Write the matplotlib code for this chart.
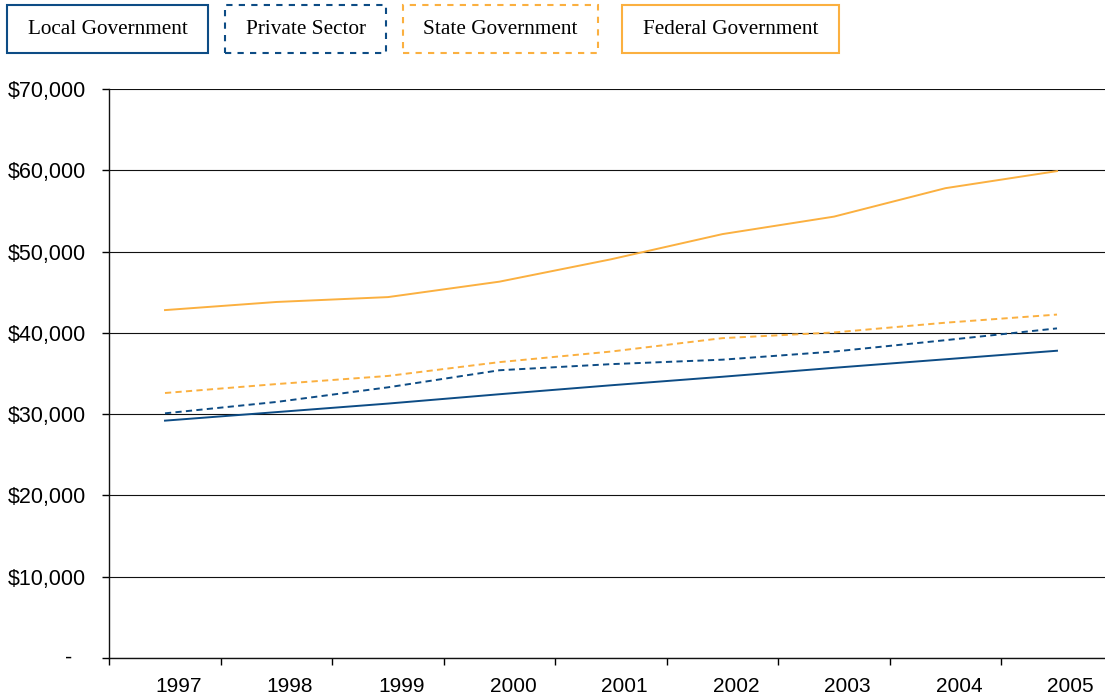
import numpy as np
import matplotlib
matplotlib.use("Agg")
import matplotlib.pyplot as plt
from matplotlib.patches import Rectangle
from matplotlib.ticker import FixedLocator, FuncFormatter

# average annual pay by sector
years = ["1997", "1998", "1999", "2000", "2001", "2002", "2003", "2004", "2005"]
local_gov = [29200, 30250, 31300, 32450, 33550, 34600, 35700, 36750, 37800]
private_sector = [30100, 31500, 33300, 35400, 36150, 36700, 37700, 39100, 40550]
state_gov = [32600, 33700, 34700, 36400, 37700, 39350, 40050, 41250, 42250]
federal_gov = [42800, 43800, 44400, 46300, 49050, 52150, 54300, 57800, 59900]

BLUE = "#0D4C85"
ORANGE = "#FBB040"

series = [
    ("Local Government", local_gov, BLUE, "-"),
    ("Private Sector", private_sector, BLUE, "--"),
    ("State Government", state_gov, ORANGE, "--"),
    ("Federal Government", federal_gov, ORANGE, "-"),
]

plt.rcParams["font.family"] = ["Liberation Sans", "DejaVu Sans"]

fig = plt.figure(figsize=(11.05, 7), dpi=100)
W, H = 1105, 700
ax = fig.add_axes([109.25 / W, 42 / H, 1003.5 / W, 569 / H])

x = np.arange(len(years))
for name, vals, col, ls in series:
    if ls == "--":
        ax.plot(x, vals, color=col, lw=1.4, ls=(0, (3.2, 2.2)))
    else:
        ax.plot(x, vals, color=col, lw=1.4)

ax.set_xlim(-0.5, len(years) - 0.5)
ax.set_ylim(0, 70000)

# category boundaries carry the tick marks, labels sit near the centres
ax.xaxis.set_major_locator(FixedLocator(np.arange(len(years)) - 0.5))
ax.xaxis.set_major_formatter(FuncFormatter(lambda v, p: ""))
ax.xaxis.set_minor_locator(FixedLocator(x + 0.12))
ax.set_xticklabels(years, minor=True)
ax.tick_params(axis="x", which="major", length=5, width=1, direction="out")
ax.tick_params(axis="x", which="minor", length=0, pad=13.5, labelsize=15)

yt = np.arange(0, 70001, 10000)
ax.set_yticks(yt)
ax.yaxis.set_major_formatter(
    FuncFormatter(lambda v, p: "" if v == 0 else "${:,.0f}".format(v)))
ax.tick_params(axis="y", length=5, width=1, direction="out", pad=11.5,
               labelsize=15.5)
# zero is shown as a dash, set in from the other labels
ax.annotate("-", xy=(0, 0), xycoords=ax.get_yaxis_transform(),
            xytext=(-37, 0), textcoords="offset pixels",
            ha="right", va="center", fontsize=15.5)

ax.grid(axis="y", color="#111111", lw=0.8)
ax.set_axisbelow(True)
for s in ["top", "right"]:
    ax.spines[s].set_visible(False)
ax.spines["left"].set_color("#111111")
ax.spines["bottom"].set_color("#111111")
ax.spines["left"].set_linewidth(1.0)
ax.spines["bottom"].set_linewidth(1.0)

# boxed key along the top
boxes = [(7, 208), (225, 386), (403, 598), (622, 839)]
top, bot = 5, 53
for (x0, x1), (name, vals, col, ls) in zip(boxes, series):
    rect = Rectangle((x0 / W, 1 - bot / H), (x1 - x0) / W, (bot - top) / H,
                     transform=fig.transFigure, fill=False, edgecolor=col,
                     lw=1.5, ls=(0, (3, 3)) if ls == "--" else "-")
    fig.patches.append(rect)
    fig.text((x0 + x1) / 2 / W, 1 - (top + bot) / 2 / H, name,
             ha="center", va="center", fontsize=15.3,
             family=["Liberation Serif", "DejaVu Serif"])

fig.savefig("out.png", dpi=100)
